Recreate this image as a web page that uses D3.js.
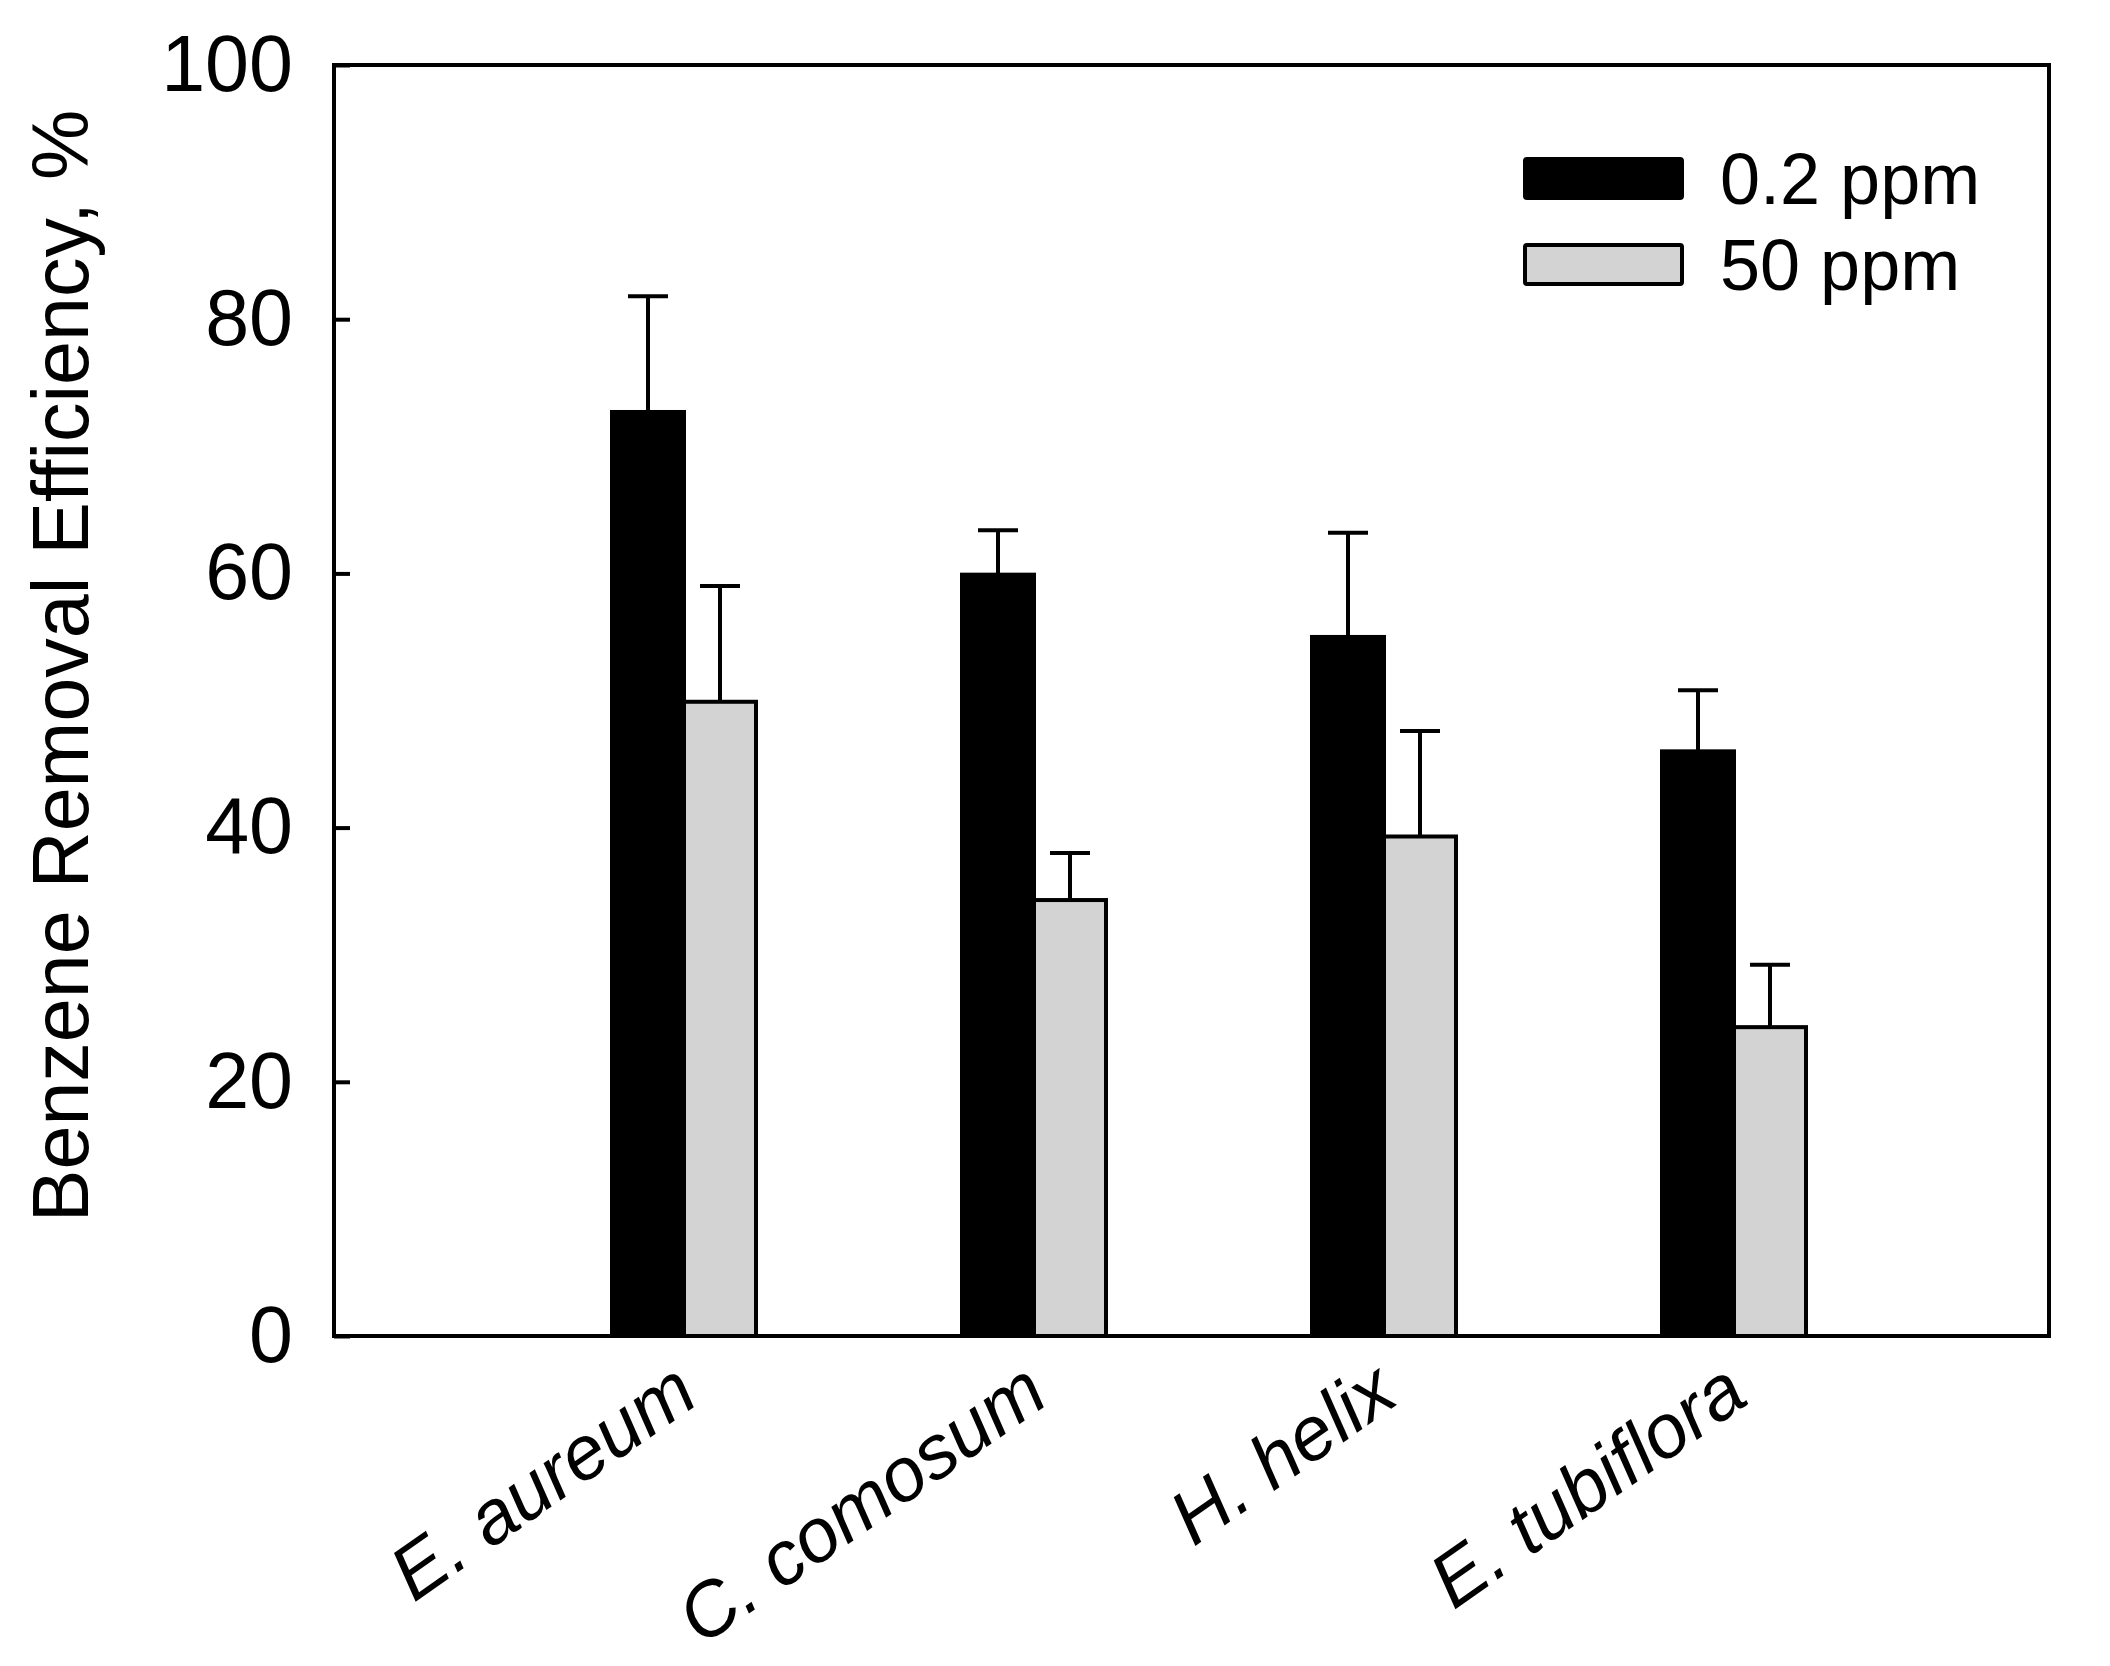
<!DOCTYPE html>
<html>
<head>
<meta charset="utf-8">
<title>Benzene removal efficiency</title>
<script src="https://d3js.org/d3.v7.min.js"></script>
<style>
body { margin: 0; background: #fff; }
svg { display: block; font-family: "Liberation Sans", Arial, sans-serif; }
</style>
</head>
<body>
<svg width="2110" height="1666"></svg>
<script>
// values
var species = ["E. aureum", "C. comosum", "H. helix", "E. tubiflora"];
var seriesNames = ["0.2 ppm", "50 ppm"];
var lowConc = [72.7, 59.9, 55.0, 46.0];
var lowErr = [9.1, 3.5, 8.2, 4.8];
var highConc = [49.9, 34.3, 39.3, 24.3];
var highErr = [9.1, 3.7, 8.3, 4.9];
var yTicks = [0, 20, 40, 60, 80, 100];

var svg = d3.select("svg");
var margin = {top: 65, right: 61, bottom: 330, left: 334};
var width = 2110 - margin.left - margin.right;
var height = 1666 - margin.top - margin.bottom;

var g = svg.append("g").attr("transform", "translate(" + margin.left + "," + margin.top + ")");

// categories sit at 1..4 on a linear axis
var x = d3.scaleLinear().domain([0, 4.9]).range([0, width]);
var y = d3.scaleLinear().domain([0, 100]).range([height, 0]);
var barW = 72;
var capW = 40;

var rows = species.map(function(s, i) {
	return [
		{sp: s, i: i, k: 0, v: lowConc[i], e: lowErr[i]},
		{sp: s, i: i, k: 1, v: highConc[i], e: highErr[i]}
	];
});
var bars = [].concat.apply([], rows);

function barX(d) { return x(d.i + 1) + (d.k === 0 ? -barW : 0); }

// error bars (upper only)
var err = g.selectAll("g.err").data(bars).enter().append("g").attr("class", "err")
	.attr("stroke", "#000").attr("stroke-width", 4);
err.append("line")
	.attr("x1", function(d) { return barX(d) + barW / 2; })
	.attr("x2", function(d) { return barX(d) + barW / 2; })
	.attr("y1", function(d) { return y(d.v); })
	.attr("y2", function(d) { return y(d.v + d.e); });
err.append("line")
	.attr("x1", function(d) { return barX(d) + barW / 2 - capW / 2; })
	.attr("x2", function(d) { return barX(d) + barW / 2 + capW / 2; })
	.attr("y1", function(d) { return y(d.v + d.e); })
	.attr("y2", function(d) { return y(d.v + d.e); });

g.selectAll("rect.bar").data(bars).enter().append("rect")
	.attr("class", "bar")
	.attr("x", barX)
	.attr("y", function(d) { return y(d.v); })
	.attr("width", barW)
	.attr("height", function(d) { return height - y(d.v); })
	.attr("fill", function(d) { return d.k === 0 ? "#000" : "#d3d3d3"; })
	.attr("stroke", "#000")
	.attr("stroke-width", 4);

// frame
g.append("rect")
	.attr("width", width).attr("height", height)
	.attr("fill", "none").attr("stroke", "#000").attr("stroke-width", 4);

// y axis, ticks pointing inward
var yAxis = g.append("g")
	.call(d3.axisLeft(y).tickValues(yTicks).tickSizeInner(-16).tickSizeOuter(0).tickPadding(41));
yAxis.select(".domain").remove();
yAxis.selectAll(".tick line").attr("stroke-width", 4);
yAxis.selectAll(".tick text")
	.attr("font-size", 79)
	.attr("font-family", "Liberation Sans, Arial, sans-serif")
	.attr("fill", "#000");

svg.append("text")
	.attr("transform", "translate(88,666) rotate(-90)")
	.attr("text-anchor", "middle")
	.attr("font-size", 79)
	.text("Benzene Removal Efficiency, %");

// category labels
g.selectAll("text.cat").data(species).enter().append("text")
	.attr("class", "cat")
	.attr("transform", function(d, i) {
		return "translate(" + (x(i + 1) + 17) + "," + (height + 66) + ") rotate(-35)";
	})
	.attr("text-anchor", "end")
	.attr("font-size", 76)
	.attr("font-style", "italic")
	.text(function(d) { return d; });

// legend
var legend = svg.append("g").attr("transform", "translate(1525,159)");
var items = legend.selectAll("g").data(seriesNames).enter().append("g")
	.attr("transform", function(d, i) { return "translate(0," + (i * 86) + ")"; });
items.append("rect")
	.attr("width", 157).attr("height", 39)
	.attr("rx", 2)
	.attr("fill", function(d, i) { return i === 0 ? "#000" : "#d3d3d3"; })
	.attr("stroke", "#000").attr("stroke-width", 4);
items.append("text")
	.attr("x", 195).attr("y", 20).attr("dy", "0.35em")
	.attr("font-size", 72)
	.text(function(d) { return d; });
</script>
</body>
</html>
